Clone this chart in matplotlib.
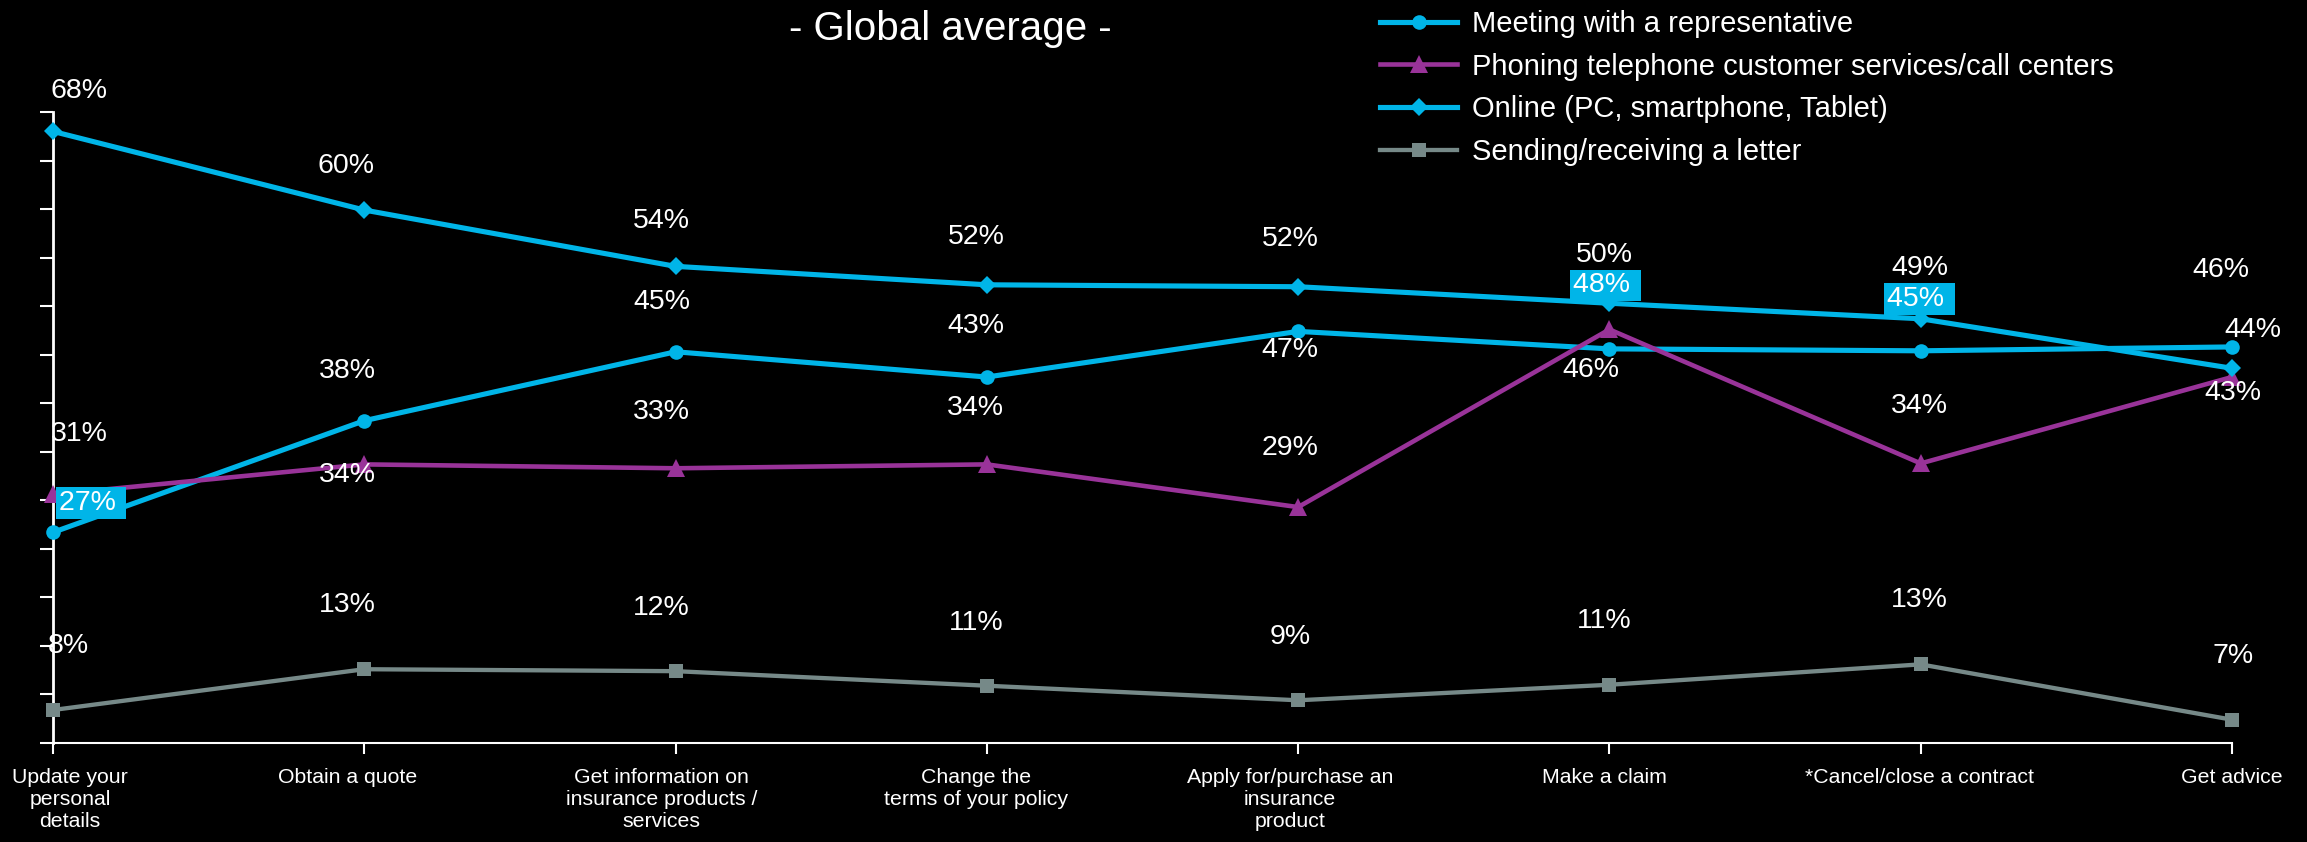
import numpy as np
import matplotlib.pyplot as plt
from matplotlib.transforms import ScaledTranslation

plt.rcParams['font.family'] = ['Liberation Sans', 'DejaVu Sans']

# categories and series (%)
categories = ["Update your\npersonal\ndetails", "Obtain a quote",
              "Get information on\ninsurance products /\nservices",
              "Change the\nterms of your policy",
              "Apply for/purchase an\ninsurance\nproduct", "Make a claim",
              "*Cancel/close a contract", "Get advice"]
meeting = [26.7, 38.2, 45.3, 42.7, 47.4, 45.6, 45.4, 45.8]
phoning = [30.6, 33.7, 33.3, 33.7, 29.3, 47.6, 33.8, 42.7]
online = [68.0, 59.9, 54.1, 52.2, 52.0, 50.3, 48.7, 43.6]
letter = [8.4, 12.6, 12.4, 10.9, 9.4, 11.0, 13.1, 7.4]

series_names = ["Meeting with a representative",
                "Phoning telephone customer services/call centers",
                "Online (PC, smartphone, Tablet)",
                "Sending/receiving a letter"]

# label offsets in pixels from each point (dx, dy up)
meeting_off = [(38, 29), (-17, 53), (-14, 53), (-11, 54), (-8, -16), (-19, -18), (-1, 52), (-11, 80)]
phoning_off = [(26, 63), (-17, -8), (-14, 59), (-11, 59), (-8, 62), (-4, 44), (-1, 60), (1, -13)]
online_off = [(26, 43), (-18, 47), (-14, 48), (-11, 51), (-8, 51), (-5, 51), (-1, 54), (21, 41)]
letter_off = [(15, 67), (-17, 67), (-14, 66), (-11, 66), (-8, 66), (-5, 67), (-1, 67), (1, 67)]
# category labels shift (pixels)
tick_shift = [17, -17, -14, -11, -8, -5, -1, 0]
# labels drawn in a highlight box: (series index, category index)
boxed = [(0, 0), (1, 5), (0, 6)]

cyan = '#00B5E8'
purple = '#993399'
grey = '#768988'

fig = plt.figure(figsize=(23.07, 8.42), dpi=100, facecolor='black')
ax = fig.add_axes([53 / 2307, 99 / 842, 2179 / 2307, 631 / 842])
ax.set_facecolor('black')

x = np.arange(len(categories))
styles = [
    (meeting, cyan, 'o', 10.5, 3.7),
    (phoning, purple, '^', 12.5, 3.3),
    (online, cyan, 'D', 9, 3.7),
    (letter, grey, 's', 10.5, 3.1),
]
for (vals, col, mk, ms, lw), name in zip(styles, series_names):
    ax.plot(x, vals, color=col, marker=mk, markersize=ms, markeredgewidth=0,
            linewidth=lw, label=name, clip_on=False, zorder=3)

for si, (vals, offs) in enumerate(zip([meeting, phoning, online, letter],
                                      [meeting_off, phoning_off, online_off, letter_off])):
    for ci, (v, (dx, dy)) in enumerate(zip(vals, offs)):
        if (si, ci) in boxed:
            ax.annotate(f"{v:.0f}% ", (ci, v), xytext=(dx, dy), textcoords='offset pixels',
                        ha='center', va='center', color='white', fontsize=20.5, zorder=5,
                        bbox=dict(boxstyle='square,pad=0.1', fc=cyan, ec='none'))
        else:
            ax.annotate(f"{v:.0f}%", (ci, v), xytext=(dx, dy - 3), textcoords='offset pixels',
                        ha='center', va='center', color='white', fontsize=20.5, zorder=5)

ax.set_xlim(0, len(categories) - 1)
ax.set_ylim(5, 70)
ax.set_yticks(np.arange(5, 71, 5))
ax.set_yticklabels([])
ax.set_xticks(x)
ax.set_xticklabels(categories, fontsize=15.3, color='white')
ax.tick_params(axis='y', colors='white', length=9.5, width=1.5, direction='out')
ax.tick_params(axis='x', colors='white', length=8, width=1.5, direction='out', pad=10)
for s in ['top', 'right']:
    ax.spines[s].set_visible(False)
ax.spines['left'].set_color('white')
ax.spines['left'].set_linewidth(2)
ax.spines['bottom'].set_color('white')
ax.spines['bottom'].set_linewidth(1.5)

for lbl, sh in zip(ax.get_xticklabels(), tick_shift):
    lbl.set_transform(lbl.get_transform() + ScaledTranslation(sh / 100, 0, fig.dpi_scale_trans))

fig.text(950 / 2307, 1 - 40 / 842, "- Global average -", color='white', fontsize=29,
         ha='center', va='baseline')

fig.legend(loc='upper left', bbox_to_anchor=(1380 / 2307, 1 - 10 / 842), frameon=False,
           fontsize=21, labelcolor='white', handlelength=2.65, handletextpad=0.5,
           labelspacing=0.5, borderpad=0, borderaxespad=0)

fig.savefig('out.png', dpi=100, facecolor='black')
